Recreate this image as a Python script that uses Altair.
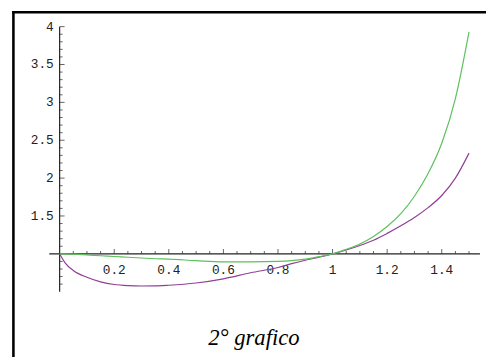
import altair as alt
import pandas as pd

# ---- data ----
x_vals = [0, 0.02, 0.05, 0.1, 0.15, 0.2, 0.25, 0.3, 0.35, 0.4, 0.5, 0.6, 0.7,
          0.8, 0.85, 0.9, 0.95, 1.0, 1.05, 1.1, 1.15, 1.2, 1.25, 1.3, 1.35,
          1.4, 1.45, 1.5]
purple = [1.0, 0.88, 0.78, 0.69, 0.63, 0.595, 0.58, 0.575, 0.576, 0.585, 0.615,
          0.67, 0.75, 0.82, 0.87, 0.915, 0.955, 1.0, 1.05, 1.11, 1.18, 1.27, 1.37,
          1.48, 1.61, 1.77, 2.0, 2.33]
green = [1.0, 1.0, 0.995, 0.985, 0.975, 0.965, 0.955, 0.945, 0.935, 0.93, 0.91,
         0.895, 0.895, 0.9, 0.91, 0.93, 0.963, 1.0, 1.06, 1.13, 1.23, 1.36, 1.53,
         1.76, 2.06, 2.46, 3.05, 3.93]

x_major = [0.2, 0.4, 0.6, 0.8, 1.0, 1.2, 1.4]
x_major_labels = ["0.2", "0.4", "0.6", "0.8", "1", "1.2", "1.4"]
x_minor = [0.05, 0.1, 0.15, 0.25, 0.3, 0.35, 0.45, 0.5, 0.55, 0.65, 0.7, 0.75,
           0.85, 0.9, 0.95, 1.05, 1.1, 1.15, 1.25, 1.3, 1.35, 1.45, 1.5]
y_major = [1.5, 2.0, 2.5, 3.0, 3.5, 4.0]
y_major_labels = ["1.5", "2", "2.5", "3", "3.5", "4"]
y_minor = [0.6, 0.7, 0.8, 0.9, 1.1, 1.2, 1.3, 1.4, 1.6, 1.7, 1.8, 1.9, 2.1, 2.2,
           2.3, 2.4, 2.6, 2.7, 2.8, 2.9, 3.1, 3.2, 3.3, 3.4, 3.6, 3.7, 3.8, 3.9]
x_axis_span = [-0.038, 1.54]
y_axis_span = [0.5, 4.0]
axis_cross = {"x": 0.0, "y": 1.0}
caption = "2° grafico"

# ---- tables ----
curves = pd.DataFrame({
    "x": x_vals * 2,
    "y": purple + green,
    "s": ["purple"] * len(x_vals) + ["green"] * len(x_vals),
})
xmaj = pd.DataFrame({"x": x_major, "y": [axis_cross["y"]] * len(x_major), "t": x_major_labels})
xmin_df = pd.DataFrame({"x": x_minor, "y": [axis_cross["y"]] * len(x_minor)})
ymaj = pd.DataFrame({"y": y_major, "x": [axis_cross["x"]] * len(y_major), "t": y_major_labels})
ymin_df = pd.DataFrame({"y": y_minor, "x": [axis_cross["x"]] * len(y_minor)})
xaxis_df = pd.DataFrame({"x": [x_axis_span[0]], "x2": [x_axis_span[1]], "y": [axis_cross["y"]]})
yaxis_df = pd.DataFrame({"y": [y_axis_span[0]], "y2": [y_axis_span[1]], "x": [axis_cross["x"]]})
one = pd.DataFrame({"a": [0]})

W, H = 486, 352
xs = alt.Scale(domain=[-0.18919, 1.56216], nice=False, zero=False)
ys = alt.Scale(domain=[-0.3636, 4.2078], nice=False, zero=False)
AX = "#222222"
MONO = "Liberation Mono"

lines = alt.Chart(curves).mark_line(strokeWidth=1.2, interpolate="monotone").encode(
    x=alt.X("x:Q", scale=xs, axis=None),
    y=alt.Y("y:Q", scale=ys, axis=None),
    color=alt.Color("s:N", scale=alt.Scale(domain=["purple", "green"],
                                           range=["#8f3f96", "#5cc05c"]), legend=None),
    detail="s:N",
)

xaxis = alt.Chart(xaxis_df).mark_rule(color=AX, strokeWidth=1.2).encode(
    x=alt.X("x:Q", scale=xs, axis=None), x2="x2:Q",
    y=alt.Y("y:Q", scale=ys, axis=None))
yaxis = alt.Chart(yaxis_df).mark_rule(color=AX, strokeWidth=1.2).encode(
    y=alt.Y("y:Q", scale=ys, axis=None), y2="y2:Q",
    x=alt.X("x:Q", scale=xs, axis=None))

xmaj_ticks = alt.Chart(xmaj).mark_tick(orient="vertical", size=5, thickness=1,
                                       yOffset=-2.5, color=AX).encode(
    x=alt.X("x:Q", scale=xs, axis=None), y=alt.Y("y:Q", scale=ys, axis=None))
xmin_ticks = alt.Chart(xmin_df).mark_tick(orient="vertical", size=3, thickness=1,
                                          yOffset=-1.5, color=AX).encode(
    x=alt.X("x:Q", scale=xs, axis=None), y=alt.Y("y:Q", scale=ys, axis=None))
ymaj_ticks = alt.Chart(ymaj).mark_tick(orient="horizontal", size=5, thickness=1,
                                       xOffset=2.5, color=AX).encode(
    x=alt.X("x:Q", scale=xs, axis=None), y=alt.Y("y:Q", scale=ys, axis=None))
ymin_ticks = alt.Chart(ymin_df).mark_tick(orient="horizontal", size=3, thickness=1,
                                          xOffset=1.5, color=AX).encode(
    x=alt.X("x:Q", scale=xs, axis=None), y=alt.Y("y:Q", scale=ys, axis=None))

xlabels = alt.Chart(xmaj).mark_text(font=MONO, fontSize=13, color=AX, dy=17,
                                    align="center", baseline="middle").encode(
    x=alt.X("x:Q", scale=xs, axis=None), y=alt.Y("y:Q", scale=ys, axis=None), text="t:N")
ylabels = alt.Chart(ymaj).mark_text(font=MONO, fontSize=13, color=AX, dx=-6,
                                    align="right", baseline="middle").encode(
    x=alt.X("x:Q", scale=xs, axis=None), y=alt.Y("y:Q", scale=ys, axis=None), text="t:N")

frame_left = alt.Chart(one).mark_rule(color="black", strokeWidth=2.6).encode(
    x=alt.value(5.5), y=alt.value(0), y2=alt.value(H))
frame_top = alt.Chart(one).mark_rule(color="black", strokeWidth=2.6).encode(
    x=alt.value(4.2), x2=alt.value(W), y=alt.value(1.3))

cap = alt.Chart(one).mark_text(text=caption, font="Liberation Serif", fontStyle="italic",
                               fontSize=23, color="black", align="center",
                               baseline="alphabetic").encode(
    x=alt.value(250), y=alt.value(340))

chart = alt.layer(
    frame_left, frame_top, xaxis, yaxis, xmin_ticks, xmaj_ticks, ymin_ticks, ymaj_ticks,
    xlabels, ylabels, lines, cap
).properties(
    width=W, height=H,
    autosize=alt.AutoSizeParams(type="none"),
    padding=0,
    background="white",
).configure_view(stroke=None)

chart.save("out.html", embed_options={"renderer": "svg", "actions": False})
